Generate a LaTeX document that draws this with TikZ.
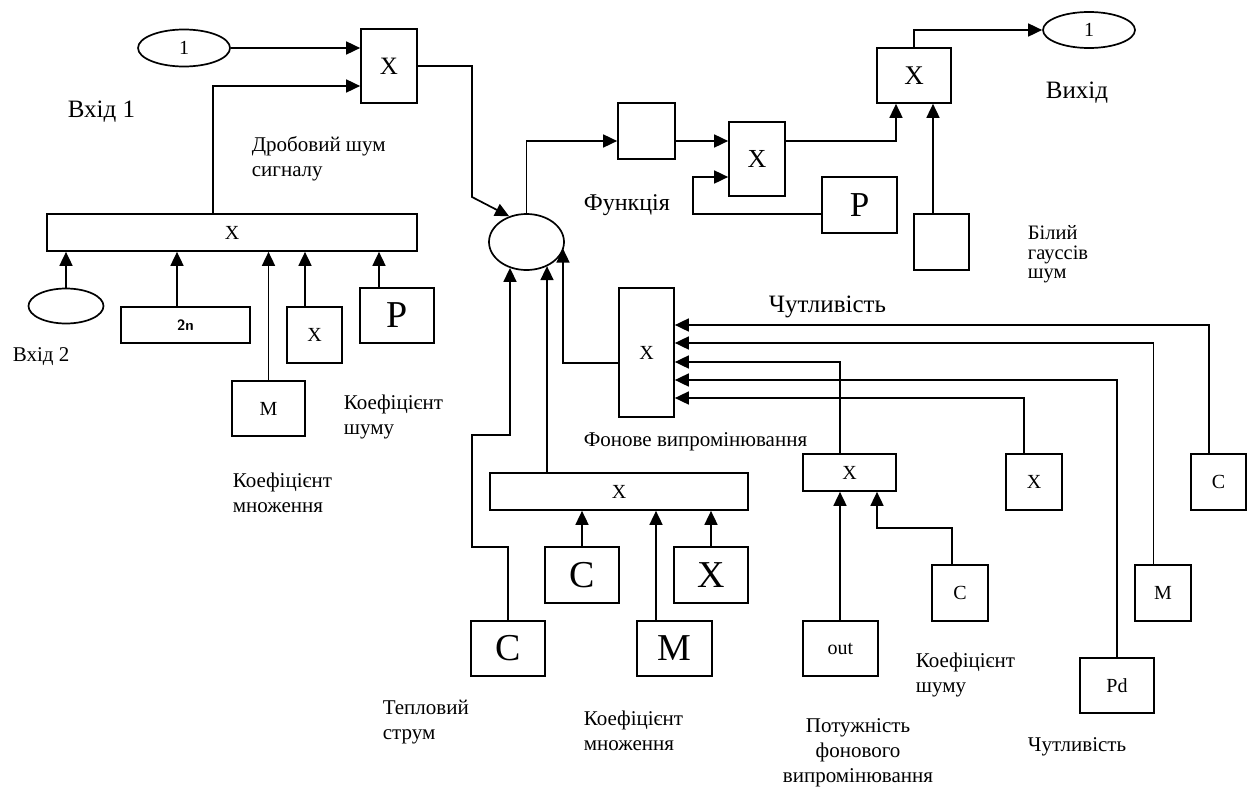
\documentclass[tikz,border=0pt]{standalone}
\usepackage{fontspec}
\setmainfont{Liberation Serif}
\usetikzlibrary{arrows.meta,shapes.geometric,calc}
\newcommand{\fs}[1]{\fontsize{#1}{#1}\selectfont}
\begin{document}
\begin{tikzpicture}[x=1pt,y=-1pt,line width=1.7pt,
  bx/.style={draw, rectangle, inner sep=0, line width=1.7pt},
  el/.style={draw, ellipse, inner sep=0, line width=1.7pt},
  arr/.style={-{Triangle[length=14pt,width=13pt]}, line width=1.7pt},
  lbl/.style={anchor=west, align=left, inner sep=0},
  t21/.style={font=\fontsize{21}{25}\selectfont},
  t18/.style={font=\fontsize{20}{20}\selectfont},
  t37/.style={font=\fontsize{38}{38}\selectfont}]
\useasboundingbox (0,0) rectangle (1247,787);
% ---------- nodes ----------
\node[el, minimum width=92pt, minimum height=37pt, t18] (in1) at (184,48) {1};
\node[bx, minimum width=56pt, minimum height=74pt, font=\fs{25}] (mulA) at (389,66) {X};
\node[bx, minimum width=370pt, minimum height=37pt, t18] (barA) at (232,232.5) {X};
\node[el, minimum width=75pt, minimum height=35pt] (in2) at (66,306) {};
\node[bx, minimum width=129pt, minimum height=36pt, font=\fs{15}\bfseries\sffamily] (box2n) at (185.5,325) {2n};
\node[bx, minimum width=55pt, minimum height=56pt, t18] (boxXs) at (314.5,335) {X};
\node[bx, minimum width=74pt, minimum height=55pt, font=\fs{38}] (boxP) at (397,315.5) {P};
\node[bx, minimum width=73pt, minimum height=55pt, t18] (boxM) at (268.5,408.5) {M};
\node[el, minimum width=75pt, minimum height=56pt] (sum) at (526.5,242) {};
\node[bx, minimum width=57pt, minimum height=56pt] (blank1) at (646.5,131) {};
\node[bx, minimum width=56pt, minimum height=74pt, font=\fs{26}] (mulB) at (757,159) {X};
\node[bx, minimum width=75pt, minimum height=56pt, font=\fs{35}] (boxP2) at (859.5,205) {P};
\node[bx, minimum width=74pt, minimum height=55pt, font=\fs{27}] (mulC) at (914,75.5) {X};
\node[bx, minimum width=55pt, minimum height=56pt] (noise) at (941.5,242) {};
\node[el, minimum width=92pt, minimum height=36pt, t18] (out1) at (1089,30) {1};
\node[bx, minimum width=55pt, minimum height=129pt, t18] (tallX) at (646.5,352.5) {X};
\node[bx, minimum width=258pt, minimum height=37pt, t18] (bar2) at (619,491.5) {X};
\node[bx, minimum width=93pt, minimum height=37pt, t18] (X4) at (849.5,472.5) {X};
\node[bx, minimum width=56pt, minimum height=56pt, t18] (X5) at (1034,482) {X};
\node[bx, minimum width=55pt, minimum height=56pt, t18] (Cr) at (1218.5,482) {C};
\node[bx, minimum width=56pt, minimum height=56pt, t18] (Mr) at (1163,593) {M};
\node[bx, minimum width=74pt, minimum height=55pt, t18] (Pd) at (1117,685.5) {Pd};
\node[bx, minimum width=74pt, minimum height=56pt, t37] (Cm) at (582,575) {C};
\node[bx, minimum width=74pt, minimum height=56pt, t37] (Xm) at (711,575) {X};
\node[bx, minimum width=74pt, minimum height=55pt, t37] (Cb) at (508,648.5) {C};
\node[bx, minimum width=75pt, minimum height=55pt, t37] (Mb) at (674.5,648.5) {M};
\node[bx, minimum width=56pt, minimum height=56pt, t18] (Cs) at (960,593) {C};
\node[bx, minimum width=75pt, minimum height=55pt, t18] (outb) at (840.5,648.5) {out};
% ---------- labels ----------
\node[lbl, font=\fs{25}] (l1) at (67,112) {Вхід 1};
\node[lbl, t21] (l2) at (251,158.5) {Дробовий шум\\сигналу};
\node[lbl, t21] (l3) at (12,357) {Вхід 2};
\node[lbl, t21] (l4) at (343,416.5) {Коефіцієнт\\шуму};
\node[lbl, t21] (l5) at (232,492.5) {Коефіцієнт\\множення};
\node[lbl, font=\fs{24}] (l6) at (583,205) {Функція};
\node[lbl, font=\fs{25}] (l7) at (1045,93) {Вихід};
\node[lbl, font=\fontsize{20.5}{19.5}\selectfont] (l8) at (1027,254.5) {Білий\\гауссів\\шум};
\node[lbl, font=\fs{25}] (l9) at (768,307) {Чутливість};
\node[lbl, t21] (l10) at (583,442) {Фонове випромінювання};
\node[lbl, t21] (l11) at (382,722.5) {Тепловий\\струм};
\node[lbl, t21] (l12) at (583,730.5) {Коефіцієнт\\множення};
\node[lbl, t21] (l13) at (915,674.5) {Коефіцієнт\\шуму};
\node[anchor=center, align=center, inner sep=0, t21] (l14) at (858,752.5) {Потужність\\фонового\\випромінювання};
\node[lbl, t21] (l15) at (1027,747) {Чутливість};
% ---------- connectors ----------
\draw[arr] (in1.east) -- (in1.east -| mulA.west);
\coordinate (aUp) at ([xshift=-19pt]barA.north);
\coordinate (aIn) at ([yshift=-20pt]mulA.west);
\draw[arr] (aUp) |- (aIn);
\coordinate (k1) at (472,197);
\draw[arr] (mulA.east) -| (k1) -- (sum.124);
\coordinate (b1in) at ([yshift=-10pt]blank1.west);
\draw[arr] (sum.north) |- (b1in);
\coordinate (b1out) at ([yshift=-10pt]blank1.east);
\draw[arr] (b1out) -- (b1out -| mulB.west);
\coordinate (p2w) at ([yshift=-9pt]boxP2.west);
\coordinate (k2) at (693,177);
\draw[arr] (p2w) -| (k2) -- (k2 -| mulB.west);
\coordinate (mBo) at ([yshift=18pt]mulB.east);
\coordinate (mCi) at ([xshift=-18pt]mulC.south);
\draw[arr] (mBo) -| (mCi);
\coordinate (nzo) at ([xshift=-8.5pt]noise.north);
\draw[arr] (nzo) -- (nzo |- mulC.south);
\draw[arr] (mulC.north) |- (out1.west);
% inputs of barA
\draw[arr] (in2.north) -- (in2.north |- barA.south);
\coordinate (c2n) at ([xshift=-8.5pt]box2n.north);
\draw[arr] (c2n) -- (c2n |- barA.south);
\draw[arr] (boxM.north) -- (boxM.north |- barA.south);
\coordinate (cXs) at ([xshift=-9.5pt]boxXs.north);
\draw[arr] (cXs) -- (cXs |- barA.south);
\coordinate (cP) at ([xshift=-18pt]boxP.north);
\draw[arr] (cP) -- (cP |- barA.south);
% inputs of sum
\coordinate (q1) at (472,547);
\coordinate (q2) at (472,435);
\coordinate (q3) at (510,435);
\draw[arr] (Cb.north) -- (Cb.north |- q1) -- (q1) -- (q2) -- (q3) -- (q3 |- sum.237);
\coordinate (b2o) at ([xshift=-72pt]bar2.north);
\draw[arr] (b2o) -- (b2o |- sum.311);
\coordinate (tw) at ([yshift=-10.5pt]tallX.west);
\coordinate (q4) at (563,363);
\draw[arr] (tw) -- (q4) -- (q4 |- sum.350);
% inputs of tallX
\draw[arr] ([xshift=-9.5pt]Cr.north) |- ([yshift=27.5pt]tallX.east);
\draw[arr] ([xshift=-9.5pt]Mr.north) |- ([yshift=9.5pt]tallX.east);
\draw[arr] ([xshift=-9.5pt]X4.north) |- ([yshift=-9.5pt]tallX.east);
\draw[arr] (Pd.north) |- ([yshift=-27.5pt]tallX.east);
\draw[arr] ([xshift=-10pt]X5.north) |- ([yshift=-45.5pt]tallX.east);
% inputs of X4
\coordinate (ob) at ([xshift=-0.5pt]outb.north);
\draw[arr] (ob) -- (ob |- X4.south);
\coordinate (cs) at ([xshift=-8pt]Cs.north);
\coordinate (q5) at (877,528);
\draw[arr] (cs) |- (q5) -- (q5 |- X4.south);
% inputs of bar2
\draw[arr] (Cm.north) -- (Cm.north |- bar2.south);
\coordinate (mb) at ([xshift=-18.5pt]Mb.north);
\draw[arr] (mb) -- (mb |- bar2.south);
\draw[arr] (Xm.north) -- (Xm.north |- bar2.south);
\end{tikzpicture}
\end{document}
